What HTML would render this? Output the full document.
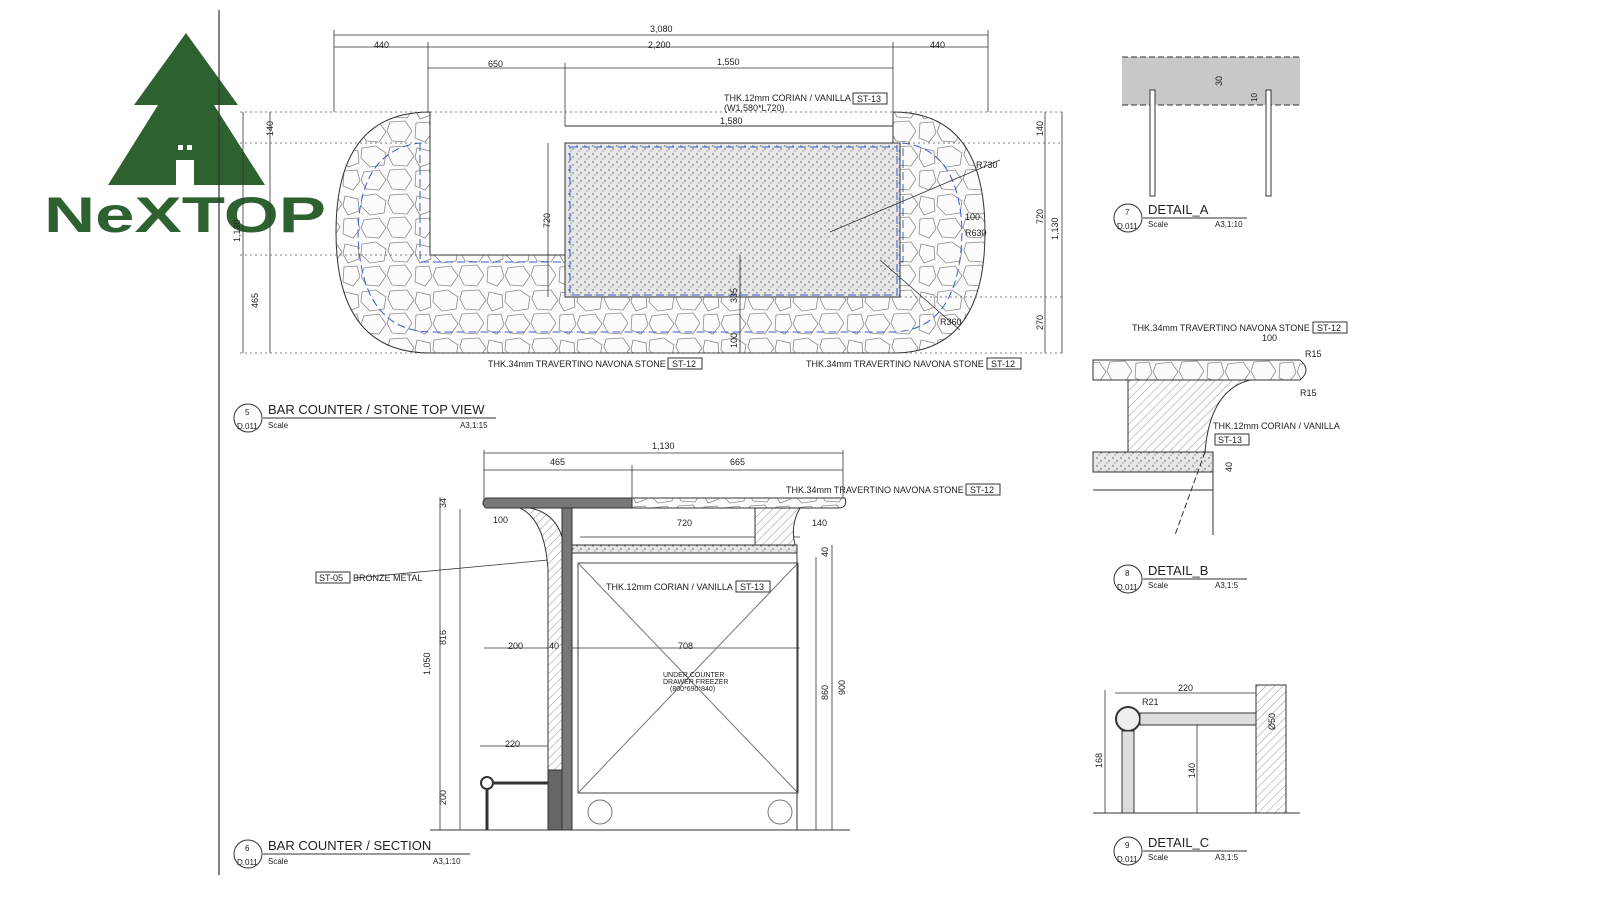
<!DOCTYPE html>
<html><head><meta charset="utf-8"><style>
html,body{margin:0;padding:0;background:#fff}
svg{display:block}
text{font-family:"Liberation Sans",sans-serif;fill:#222}
</style></head><body>
<svg width="1600" height="901" viewBox="0 0 1600 901" xmlns="http://www.w3.org/2000/svg">
<defs>
<pattern id="stone" width="72" height="48" patternUnits="userSpaceOnUse">
<rect width="72" height="48" fill="#fbfbfb"/>
<g fill="none" stroke="#8a8a8a" stroke-width="0.8">
<path d="M2 4 L16 2 L26 9 L24 21 L10 23 L1 14Z"/>
<path d="M30 3 L47 2 L54 12 L47 22 L33 21 L28 11Z"/>
<path d="M57 4 L70 7 L71 19 L60 23 L55 14Z"/>
<path d="M4 28 L19 26 L26 36 L19 46 L6 45 L1 36Z"/>
<path d="M30 26 L45 25 L52 35 L45 46 L32 45 L27 35Z"/>
<path d="M56 27 L69 26 L72 37 L65 46 L55 42Z"/>
</g></pattern>
<pattern id="dots" width="8" height="8" patternUnits="userSpaceOnUse">
<rect width="8" height="8" fill="#e6e6e6"/>
<circle cx="1" cy="2" r="0.7" fill="#555"/><circle cx="5" cy="5" r="0.7" fill="#555"/><circle cx="3" cy="7" r="0.6" fill="#777"/>
</pattern>
<pattern id="hatch" width="6" height="6" patternUnits="userSpaceOnUse" patternTransform="rotate(45)">
<rect width="6" height="6" fill="#fff"/><line x1="0" y1="0" x2="0" y2="6" stroke="#666" stroke-width="0.7"/>
</pattern>
</defs>

<!-- logo -->
<polygon points="186,33 238,105 214,105 265,185 108,185 158,105 134,105" fill="#2e6130"/>
<rect x="176" y="160" width="18" height="25" fill="#fff"/>
<rect x="178" y="145" width="5" height="5" fill="#fff"/><rect x="187" y="145" width="5" height="5" fill="#fff"/>
<text x="44" y="232" font-size="50" font-weight="bold" style="fill:#2e6130" textLength="282" lengthAdjust="spacingAndGlyphs">NeXTOP</text>

<line x1="219" y1="10" x2="219" y2="875" stroke="#333" stroke-width="1.2"/>

<!-- TOP VIEW -->
<path d="M430 112 L430 255 L893 255 L893 112 Q985 112 985 232 Q985 353 893 353 L430 353 Q336 353 336 232 Q336 112 430 112Z" fill="url(#stone)" stroke="#333"/>
<path d="M420 143 L420 262 L903 262 L903 143 Q960 150 962 232 Q960 330 893 332 L430 332 Q360 330 358 232 Q360 150 420 143Z" fill="none" stroke="#3a5fd0" stroke-dasharray="8 4"/>
<rect x="565" y="143" width="335" height="154" fill="url(#dots)" stroke="#333"/>
<rect x="570" y="147" width="327" height="148" fill="none" stroke="#3a5fd0" stroke-dasharray="8 4"/>
<line x1="565" y1="126" x2="893" y2="126" stroke="#333"/>
<g stroke="#333" stroke-width="0.8" fill="none">
<line x1="334" y1="35" x2="988" y2="35"/><line x1="334" y1="47" x2="988" y2="47"/><line x1="428" y1="68" x2="893" y2="68"/>
<line x1="334" y1="30" x2="334" y2="112"/><line x1="988" y1="30" x2="988" y2="112"/>
<line x1="428" y1="42" x2="428" y2="112"/><line x1="893" y1="42" x2="893" y2="112"/><line x1="565" y1="63" x2="565" y2="126"/>
<line x1="243" y1="112" x2="243" y2="353"/><line x1="270" y1="112" x2="270" y2="353"/>
<line x1="1045" y1="112" x2="1045" y2="353"/><line x1="1062" y1="112" x2="1062" y2="353"/>
<line x1="548" y1="143" x2="548" y2="297"/><line x1="740" y1="255" x2="740" y2="353"/>
<line x1="830" y1="232" x2="1000" y2="160"/><line x1="880" y1="260" x2="960" y2="330"/>
</g>
<g stroke="#555" stroke-width="0.8" stroke-dasharray="2 3">
<line x1="240" y1="112" x2="1062" y2="112"/><line x1="240" y1="143" x2="430" y2="143"/><line x1="893" y1="143" x2="1062" y2="143"/>
<line x1="240" y1="255" x2="430" y2="255"/><line x1="900" y1="297" x2="1062" y2="297"/><line x1="240" y1="353" x2="1062" y2="353"/>
</g>
<g font-size="9">
<text x="650" y="32">3,080</text><text x="374" y="48">440</text><text x="648" y="48">2,200</text><text x="930" y="48">440</text>
<text x="488" y="67">650</text><text x="717" y="65">1,550</text>
<text x="724" y="101">THK.12mm CORIAN / VANILLA</text><rect x="853" y="93" width="34" height="11" fill="none" stroke="#333"/><text x="857" y="102">ST-13</text>
<text x="724" y="111">(W1,580*L720)</text><text x="720" y="124">1,580</text>
<text x="488" y="367">THK.34mm TRAVERTINO NAVONA STONE</text><rect x="668" y="358" width="34" height="11" fill="none" stroke="#333"/><text x="672" y="367">ST-12</text>
<text x="806" y="367">THK.34mm TRAVERTINO NAVONA STONE</text><rect x="987" y="358" width="34" height="11" fill="none" stroke="#333"/><text x="991" y="367">ST-12</text>
<text x="965" y="220">100</text><text x="965" y="236">R630</text><text x="976" y="168">R730</text><text x="940" y="325">R360</text>
<text transform="translate(240,242) rotate(-90)">1,130</text><text transform="translate(273,136) rotate(-90)">140</text>
<text transform="translate(258,308) rotate(-90)">465</text><text transform="translate(550,228) rotate(-90)">720</text>
<text transform="translate(1043,224) rotate(-90)">720</text><text transform="translate(1058,240) rotate(-90)">1,130</text>
<text transform="translate(1043,136) rotate(-90)">140</text><text transform="translate(1043,330) rotate(-90)">270</text>
<text transform="translate(737,303) rotate(-90)">335</text><text transform="translate(737,348) rotate(-90)">100</text>
</g>
<g font-size="13"><text x="268" y="414">BAR COUNTER / STONE TOP VIEW</text></g>
<line x1="263" y1="418" x2="496" y2="418" stroke="#333"/>
<circle cx="248" cy="418" r="14" fill="none" stroke="#333"/><text x="245" y="415" font-size="8">5</text><text x="237" y="429" font-size="8">D.011</text>
<text x="268" y="428" font-size="8">Scale</text><text x="460" y="428" font-size="8">A3,1:15</text>

<!-- SECTION -->
<g stroke="#333" stroke-width="0.8" fill="none">
<line x1="484" y1="453" x2="843" y2="453"/><line x1="484" y1="470" x2="843" y2="470"/>
<line x1="484" y1="450" x2="484" y2="500"/><line x1="843" y1="450" x2="843" y2="500"/><line x1="632" y1="465" x2="632" y2="500"/>
<line x1="440" y1="497" x2="440" y2="830"/><line x1="460" y1="509" x2="460" y2="830"/>
<line x1="816" y1="557" x2="816" y2="830"/><line x1="832" y1="545" x2="832" y2="830"/>
<line x1="484" y1="648" x2="800" y2="648"/><line x1="480" y1="746" x2="558" y2="746"/><line x1="580" y1="537" x2="800" y2="537"/>
<line x1="355" y1="578" x2="548" y2="560"/>
</g>
<path d="M486 498 L845 498 Q848 508 838 508 L486 508 Q480 503 486 498Z" fill="url(#stone)" stroke="#333"/>
<path d="M486 498 L632 498 L632 508 L486 508 Q480 503 486 498Z" fill="#777" stroke="#333"/>
<path d="M530 508 Q565 515 565 560 L565 770 L548 770 L548 570 Q545 520 520 508Z" fill="url(#hatch)" stroke="#333"/>
<rect x="562" y="508" width="10" height="322" fill="#777" stroke="#333"/>
<path d="M755 508 L800 508 Q790 525 795 545 L755 545Z" fill="url(#hatch)" stroke="#333"/>
<rect x="572" y="545" width="225" height="8" fill="url(#dots)" stroke="#333"/>
<rect x="578" y="563" width="220" height="230" fill="none" stroke="#444"/>
<line x1="578" y1="563" x2="798" y2="793" stroke="#777"/><line x1="798" y1="563" x2="578" y2="793" stroke="#777"/>
<circle cx="600" cy="812" r="12" fill="none" stroke="#777"/><circle cx="780" cy="812" r="12" fill="none" stroke="#777"/>
<line x1="797" y1="553" x2="797" y2="830" stroke="#333"/>
<rect x="548" y="770" width="14" height="60" fill="#666" stroke="#333"/>
<circle cx="487" cy="783" r="6" fill="#fff" stroke="#333" stroke-width="2"/>
<line x1="487" y1="789" x2="487" y2="830" stroke="#333" stroke-width="3"/><line x1="493" y1="783" x2="548" y2="783" stroke="#333" stroke-width="3"/>
<line x1="430" y1="830" x2="850" y2="830" stroke="#333"/>
<g font-size="9">
<text x="652" y="449">1,130</text><text x="550" y="465">465</text><text x="730" y="465">665</text>
<text x="786" y="493">THK.34mm TRAVERTINO NAVONA STONE</text><rect x="966" y="484" width="34" height="11" fill="none" stroke="#333"/><text x="970" y="493">ST-12</text>
<text x="493" y="523">100</text><text x="677" y="526">720</text><text x="812" y="526">140</text>
<rect x="316" y="572" width="34" height="11" fill="none" stroke="#333"/><text x="319" y="581">ST-05</text><text x="353" y="581">BRONZE METAL</text>
<text x="606" y="590">THK.12mm CORIAN / VANILLA</text><rect x="736" y="581" width="34" height="11" fill="none" stroke="#333"/><text x="740" y="590">ST-13</text>
<text x="508" y="649">200</text><text x="549" y="649">40</text><text x="678" y="649">708</text><text x="505" y="747">220</text>
<text x="663" y="677" font-size="7">UNDER COUNTER</text><text x="663" y="684" font-size="7">DRAWER FREEZER</text><text x="670" y="691" font-size="7">(800*690*840)</text>
<text transform="translate(430,675) rotate(-90)">1,050</text><text transform="translate(446,645) rotate(-90)">816</text>
<text transform="translate(446,805) rotate(-90)">200</text><text transform="translate(446,508) rotate(-90)">34</text>
<text transform="translate(828,700) rotate(-90)">860</text><text transform="translate(845,695) rotate(-90)">900</text>
<text transform="translate(828,557) rotate(-90)">40</text>
</g>
<text x="268" y="850" font-size="13">BAR COUNTER / SECTION</text>
<line x1="263" y1="854" x2="470" y2="854" stroke="#333"/>
<circle cx="248" cy="854" r="14" fill="none" stroke="#333"/><text x="245" y="851" font-size="8">6</text><text x="237" y="865" font-size="8">D.011</text>
<text x="268" y="864" font-size="8">Scale</text><text x="433" y="864" font-size="8">A3,1:10</text>

<!-- DETAIL A -->
<rect x="1122" y="57" width="178" height="48" fill="#c8c8c8"/>
<line x1="1122" y1="57" x2="1300" y2="57" stroke="#333" stroke-dasharray="6 3"/><line x1="1122" y1="105" x2="1300" y2="105" stroke="#333" stroke-dasharray="6 3"/>
<rect x="1150" y="90" width="5" height="106" fill="#fff" stroke="#333"/><rect x="1266" y="90" width="5" height="106" fill="#fff" stroke="#333"/>
<text transform="translate(1222,86) rotate(-90)" font-size="9">30</text><text transform="translate(1257,102) rotate(-90)" font-size="8">10</text>
<text x="1148" y="214" font-size="13">DETAIL_A</text><line x1="1143" y1="218" x2="1247" y2="218" stroke="#333"/>
<circle cx="1128" cy="218" r="14" fill="none" stroke="#333"/><text x="1125" y="215" font-size="8">7</text><text x="1117" y="229" font-size="8">D.011</text>
<text x="1148" y="227" font-size="8">Scale</text><text x="1215" y="227" font-size="8">A3,1:10</text>

<!-- DETAIL B -->
<path d="M1093 360 L1300 360 Q1312 370 1300 380 L1093 380Z" fill="url(#stone)" stroke="#333"/>
<path d="M1128 380 L1250 380 Q1210 390 1205 452 L1128 452Z" fill="url(#hatch)" stroke="#333"/>
<rect x="1093" y="452" width="120" height="20" fill="url(#dots)" stroke="#333"/>
<line x1="1093" y1="490" x2="1213" y2="490" stroke="#333"/><line x1="1213" y1="472" x2="1213" y2="535" stroke="#333"/>
<line x1="1205" y1="452" x2="1175" y2="535" stroke="#333" stroke-dasharray="6 3"/>
<g font-size="9"><text x="1132" y="331">THK.34mm TRAVERTINO NAVONA STONE</text><rect x="1313" y="322" width="34" height="11" fill="none" stroke="#333"/><text x="1317" y="331">ST-12</text>
<text x="1262" y="341">100</text><text x="1305" y="357">R15</text><text x="1300" y="396">R15</text>
<text x="1213" y="429">THK.12mm CORIAN / VANILLA</text><rect x="1215" y="434" width="34" height="11" fill="none" stroke="#333"/><text x="1218" y="443">ST-13</text>
<text transform="translate(1232,472) rotate(-90)">40</text></g>
<text x="1148" y="575" font-size="13">DETAIL_B</text><line x1="1143" y1="579" x2="1247" y2="579" stroke="#333"/>
<circle cx="1128" cy="579" r="14" fill="none" stroke="#333"/><text x="1125" y="576" font-size="8">8</text><text x="1117" y="590" font-size="8">D.011</text>
<text x="1148" y="588" font-size="8">Scale</text><text x="1215" y="588" font-size="8">A3,1:5</text>

<!-- DETAIL C -->
<rect x="1256" y="685" width="30" height="128" fill="url(#hatch)" stroke="#333"/>
<circle cx="1128" cy="719" r="12" fill="#eee" stroke="#333" stroke-width="2"/>
<rect x="1122" y="731" width="12" height="82" fill="#ddd" stroke="#333"/>
<rect x="1140" y="713" width="116" height="12" fill="#ddd" stroke="#333"/>
<line x1="1093" y1="813" x2="1300" y2="813" stroke="#333"/>
<line x1="1115" y1="693" x2="1256" y2="693" stroke="#333" stroke-width="0.8"/><line x1="1105" y1="690" x2="1105" y2="813" stroke="#333" stroke-width="0.8"/>
<line x1="1197" y1="725" x2="1197" y2="813" stroke="#333" stroke-width="0.8"/>
<g font-size="9"><text x="1178" y="691">220</text><text x="1142" y="705">R21</text>
<text transform="translate(1102,768) rotate(-90)">168</text><text transform="translate(1195,778) rotate(-90)">140</text>
<text transform="translate(1275,730) rotate(-90)">Ø50</text></g>
<text x="1148" y="847" font-size="13">DETAIL_C</text><line x1="1143" y1="851" x2="1247" y2="851" stroke="#333"/>
<circle cx="1128" cy="851" r="14" fill="none" stroke="#333"/><text x="1125" y="848" font-size="8">9</text><text x="1117" y="862" font-size="8">D.011</text>
<text x="1148" y="860" font-size="8">Scale</text><text x="1215" y="860" font-size="8">A3,1:5</text>
</svg>
</body></html>
